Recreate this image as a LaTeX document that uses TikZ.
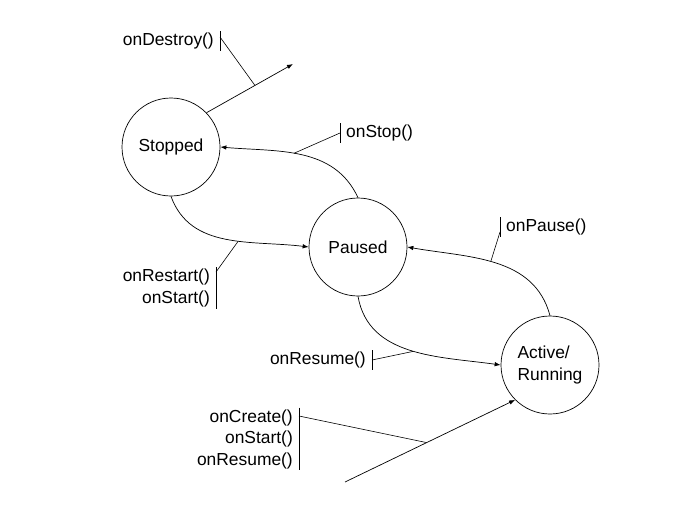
\documentclass[tikz,border=0pt]{standalone}
\usepackage{fontspec}
\setmainfont{Liberation Sans}
\usepackage{tikz}
\usetikzlibrary{arrows.meta}

\begin{document}
\begin{tikzpicture}[
    x=1pt, y=-1pt,
    font=\fontsize{17.4}{21.5}\selectfont,
    state/.style={circle, draw, line width=0.7pt, minimum size=98pt,
                  inner sep=0pt, align=left},
    arrow/.style={-{Latex[length=6pt, width=4.5pt]}, line width=0.7pt},
    leader/.style={line width=0.6pt},
    callout/.style={inner xsep=6pt, inner ysep=1.5pt, align=right}
  ]
    \useasboundingbox (0,0) rectangle (700,525);

    \node[state] (stopped) at (171,147) {Stopped};
    \node[state] (paused)  at (358,247) {Paused};
    \node[state] (active)  at (550,365) {Active/\\Running};

    \coordinate (exit)  at (293,64);
    \coordinate (entry) at (345,482);

    \node[callout, anchor=east] (destroy) at (220,41) {onDestroy()};
    \node[callout, anchor=west, align=left] (stop) at (340,133) {onStop()};
    \node[callout, anchor=east] (restart) at (216,288) {onRestart()\\onStart()};
    \node[callout, anchor=west, align=left] (pause) at (500,227) {onPause()};
    \node[callout, anchor=east] (resume) at (372,360) {onResume()};
    \node[callout, anchor=east] (create) at (299,439) {onCreate()\\onStart()\\onResume()};

    \draw[arrow] (stopped.44) -- (exit) coordinate[pos=0.56] (destroytick);
    \draw[arrow] (paused.north) to[out=115, in=-5] coordinate[pos=0.55] (stoptick) (stopped.east);
    \draw[arrow] (stopped.south) to[out=-70, in=173] coordinate[pos=0.58] (restarttick) (paused.west);
    \draw[arrow] (active.north) to[out=105, in=-10] coordinate[pos=0.53] (pausetick) (paused.east);
    \draw[arrow] (paused.south) to[out=-80, in=172] coordinate[pos=0.52] (resumetick) (active.west);
    \draw[arrow] (entry) -- (active.225) coordinate[pos=0.48] (createtick);

    % bars beside the callbacks
    \draw[leader] (destroy.north east) -- (destroy.south east);
    \draw[leader] (stop.north west) -- (stop.south west);
    \draw[leader] (restart.north east) -- (restart.south east);
    \draw[leader] (pause.north west) -- (pause.south west);
    \draw[leader] (resume.north east) -- (resume.south east);
    \draw[leader] (create.north east) -- (create.south east);

    \draw[leader] (destroytick) -- ([yshift=4pt]destroy.east);
    \draw[leader] (stoptick) -- (stop.west);
    \draw[leader] (restarttick) -- ([yshift=16pt]restart.east);
    \draw[leader] (pausetick) -- ([yshift=-5pt]pause.west);
    \draw[leader] (resumetick) -- (resume.east);
    \draw[leader] (createtick) -- ([yshift=23pt]create.east);
\end{tikzpicture}
\end{document}
